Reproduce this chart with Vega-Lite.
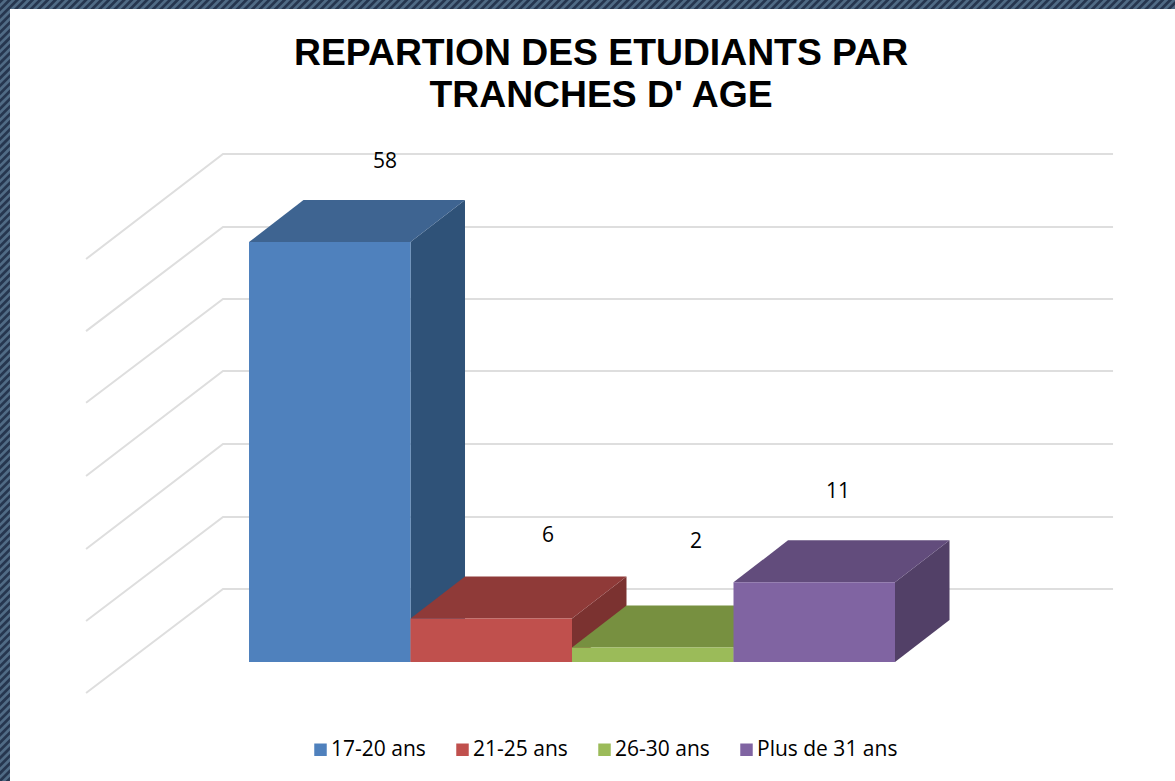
{
"$schema":"https://vega.github.io/schema/vega-lite/v6.json",
"width":1175,"height":781,"padding":0,"autosize":{"type":"none"},
"background":"#506b85",
"view":{"stroke":null},
"datasets":{
"titleLines":[
{"line":"REPARTION DES ETUDIANTS PAR","x":2.18,"y":82.46},
{"line":"TRANCHES D' AGE","x":2.18,"y":76.66}
],
"bars":[
{"tranche":"17-20 ans","start":0,"end":1,"base":0,"etudiants":58,"labelX":0.842,"labelY":69.05},
{"tranche":"21-25 ans","start":1,"end":2,"base":0,"etudiants":6,"labelX":1.851,"labelY":17.45},
{"tranche":"26-30 ans","start":2,"end":3,"base":0,"etudiants":2,"labelX":2.768,"labelY":16.6},
{"tranche":"Plus de 31 ans","start":3,"end":4,"base":0,"etudiants":11,"labelX":3.647,"labelY":23.5}
],
"faces":[
{"face":"A side","x":1,"y":58,"y2":0},{"face":"A side","x":1.3375,"y":63.8,"y2":5.8},
{"face":"A top","x":0,"y":58,"y2":58},{"face":"A top","x":0.3375,"y":63.8,"y2":58},{"face":"A top","x":1,"y":63.8,"y2":58},{"face":"A top","x":1.3375,"y":63.8,"y2":63.8},
{"face":"B side","x":2,"y":6,"y2":0},{"face":"B side","x":2.3375,"y":11.8,"y2":5.8},
{"face":"B top","x":1,"y":6,"y2":6},{"face":"B top","x":1.3375,"y":11.8,"y2":6},{"face":"B top","x":2,"y":11.8,"y2":6},{"face":"B top","x":2.3375,"y":11.8,"y2":11.8},
{"face":"C side","x":3,"y":2,"y2":0},{"face":"C side","x":3.3375,"y":7.8,"y2":5.8},
{"face":"C top","x":2,"y":2,"y2":2},{"face":"C top","x":2.3375,"y":7.8,"y2":2},{"face":"C top","x":3,"y":7.8,"y2":2},{"face":"C top","x":3.3375,"y":7.8,"y2":7.8},
{"face":"D side","x":4,"y":11,"y2":0},{"face":"D side","x":4.3375,"y":16.8,"y2":5.8},
{"face":"D top","x":3,"y":11,"y2":11},{"face":"D top","x":3.3375,"y":16.8,"y2":11},{"face":"D top","x":4,"y":16.8,"y2":11},{"face":"D top","x":4.3375,"y":16.8,"y2":16.8}
],
"grid":[
{"level":0,"x":-1.009,"y":-4.28},{"level":0,"x":-0.161,"y":10.08},{"level":0,"x":5.35,"y":10.08},
{"level":10,"x":-1.009,"y":5.66},{"level":10,"x":-0.161,"y":20.03},{"level":10,"x":5.35,"y":20.03},
{"level":20,"x":-1.009,"y":15.6},{"level":20,"x":-0.161,"y":30.11},{"level":20,"x":5.35,"y":30.11},
{"level":30,"x":-1.009,"y":25.7},{"level":30,"x":-0.161,"y":40.19},{"level":30,"x":5.35,"y":40.19},
{"level":40,"x":-1.009,"y":35.8},{"level":40,"x":-0.161,"y":50.14},{"level":40,"x":5.35,"y":50.14},
{"level":50,"x":-1.009,"y":45.7},{"level":50,"x":-0.161,"y":60.08},{"level":50,"x":5.35,"y":60.08},
{"level":60,"x":-1.009,"y":55.66},{"level":60,"x":-0.161,"y":70.17},{"level":60,"x":5.35,"y":70.17}
],
"hatch":[{"x":-1.5418,"y":91.44},{"x":5.7337,"y":-70.85}],
"page":[{"x":-1.48,"x2":5.7337,"y":90.2,"y2":-16.44}]
},
"layer":[
{"data":{"name":"hatch"},"mark":{"type":"line","stroke":"#26364f","strokeWidth":2400,"strokeDash":[2.7,2.7],"strokeCap":"butt","clip":false},
"encoding":{"x":{"field":"x","type":"quantitative","axis":null,"scale":{"domain":[-1.5418,5.7337],"nice":false,"zero":false}},"y":{"field":"y","type":"quantitative","axis":null,"scale":{"domain":[-16.44,91.44],"nice":false,"zero":false}}}},
{"data":{"name":"page"},"mark":{"type":"rect","fill":"#ffffff"},
"encoding":{"x":{"field":"x","type":"quantitative"},"x2":{"field":"x2"},"y":{"field":"y","type":"quantitative"},"y2":{"field":"y2"}}},
{"data":{"name":"grid"},"mark":{"type":"line","stroke":"#dedede","strokeWidth":2},
"encoding":{"x":{"field":"x","type":"quantitative"},"y":{"field":"y","type":"quantitative"},"detail":{"field":"level"},"order":{"field":"x"}}},
{"data":{"name":"faces"},"mark":{"type":"area","interpolate":"linear"},
"encoding":{"x":{"field":"x","type":"quantitative"},"y":{"field":"y","type":"quantitative","stack":null},"y2":{"field":"y2"},
"color":{"field":"face","type":"nominal","legend":null,"scale":{"domain":["A side","A top","B side","B top","C side","C top","D side","D top"],"range":["#2f5278","#3e6491","#7b3230","#8f3a38","#5f7a36","#779040","#524067","#624c7c"]}}}},
{"data":{"name":"bars"},"mark":{"type":"rect"},
"encoding":{"x":{"field":"start","type":"quantitative"},"x2":{"field":"end"},"y":{"field":"etudiants","type":"quantitative"},"y2":{"field":"base"},
"color":{"field":"tranche","type":"nominal","title":null,"scale":{"domain":["17-20 ans","21-25 ans","26-30 ans","Plus de 31 ans"],"range":["#4f81bd","#c0504d","#9bbb59","#8064a2"]},
"legend":{"orient":"none","direction":"horizontal","legendX":310,"legendY":739,"symbolType":"square","symbolSize":156,"symbolStrokeWidth":0,"symbolOpacity":1,"labelFont":"Open Sans","labelFontSize":21,"labelColor":"#000000","labelOffset":0,"columnPadding":26,"labelLimit":300}}}},
{"data":{"name":"bars"},"mark":{"type":"text","font":"Open Sans","fontSize":21,"color":"#000000","align":"center","baseline":"middle"},
"encoding":{"x":{"field":"labelX","type":"quantitative"},"y":{"field":"labelY","type":"quantitative"},"text":{"field":"etudiants","type":"quantitative"}}},
{"data":{"name":"titleLines"},"mark":{"type":"text","font":"Liberation Sans","fontSize":37.3,"fontWeight":"bold","color":"#000000","align":"center","baseline":"alphabetic"},
"encoding":{"x":{"field":"x","type":"quantitative"},"y":{"field":"y","type":"quantitative"},"text":{"field":"line","type":"nominal"}}}
],
"resolve":{"scale":{"color":"independent"}}
}
